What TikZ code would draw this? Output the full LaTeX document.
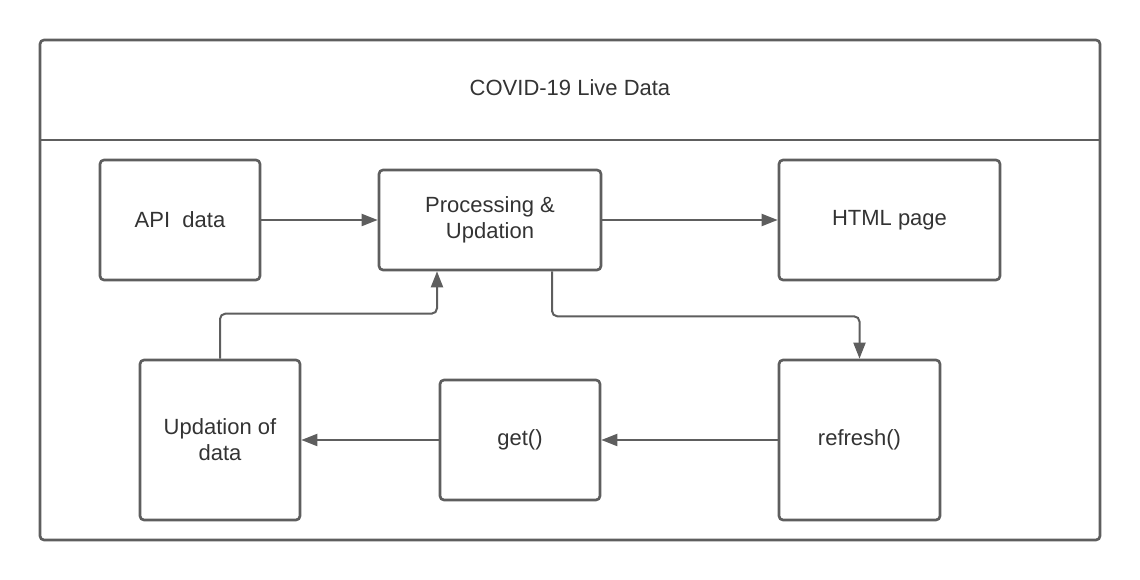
\documentclass[tikz,border=0pt]{standalone}
\usepackage{fontspec}
\setmainfont{Liberation Sans}
\usetikzlibrary{arrows.meta,calc}
\definecolor{linegray}{HTML}{5E5E5E}
\definecolor{textgray}{HTML}{333333}
\begin{document}
\begin{tikzpicture}[x=0.75pt, y=-0.75pt, >={Triangle[length=12pt,width=9pt]}]
      \tikzset{
  box/.style={
    rectangle,
    draw=linegray,
    line width=2pt,
    rounded corners=3pt,
    align=center,
    text=textgray,
    font=\fontsize{16.5}{19.5}\selectfont
  },
  link/.style={
    draw=linegray,
    line width=1.5pt,
    rounded corners=4pt
  }
}

\useasboundingbox (0,0) rectangle (1140,580);

% container with header
\draw [linegray, line width=2pt, rounded corners=3pt] (40,40) rectangle (1100,540);
\draw [linegray, line width=2pt] (40,140) -- (1100,140);
\node [text=textgray, font=\fontsize{16.5}{19.5}\selectfont] (title) at (570,88) {COVID-19 Live Data};

% top row
\node [box, minimum width=120pt, minimum height=90pt] (api) at (180,220) {API\ \ data};
\node [box, minimum width=166.5pt, minimum height=75pt] (proc) at (490,220) {Processing \&\\Updation};
\node [box, minimum width=165.75pt, minimum height=90pt] (html) at (889.5,220) {HTML page};

% bottom row
\node [box, minimum width=120pt, minimum height=120pt] (upd) at (220,440) {Updation of\\data};
\node [box, minimum width=120pt, minimum height=90pt] (get) at (520,440) {get()};
\node [box, minimum width=120.75pt, minimum height=120pt] (refresh) at (859.5,440) {refresh()};

\foreach \a/\b in {api/proc, proc/html, refresh/get, get/upd}
  \draw [link, ->] (\a) -- (\b);

\draw [link, ->] ($(proc.south)+(62,0)$) -- ++(0,45) -| (refresh.north);
\draw [link, ->] (upd.north) -- ++(0,-45) -| ($(proc.south)+(-53,0)$);
    \end{tikzpicture}
\end{document}
